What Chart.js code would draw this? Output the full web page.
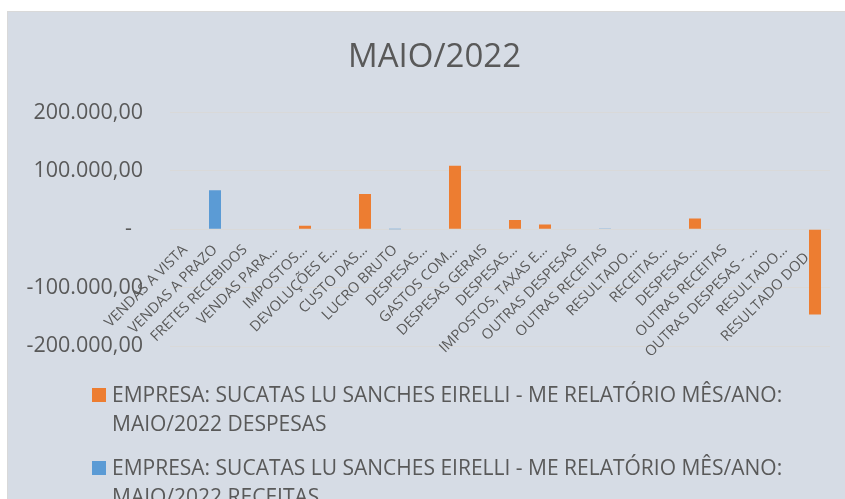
<!DOCTYPE html>
<html><head><meta charset="utf-8">
<script src="https://cdn.jsdelivr.net/npm/chart.js@4"></script>
<style>
html,body{margin:0;padding:0;background:#fff;width:845px;height:499px;overflow:hidden;font-family:'Open Sans',sans-serif;position:relative;}
#panel{position:absolute;left:7px;top:11px;width:838px;height:488px;background:#D6DCE5;border-left:1px solid #d9d9d9;border-top:1px solid #d9d9d9;box-sizing:border-box;}
#wrap{position:absolute;left:0;top:0;width:869px;height:386px;}
#legend{position:absolute;left:92px;top:380px;color:#595959;font-family:'Open Sans';font-size:21px;line-height:29px;}
.item{display:flex;align-items:flex-start;margin-bottom:15px;}
.box{width:14px;height:14px;margin-top:8px;margin-right:6px;flex:none;}
.txt{width:700px;}
</style></head>
<body>
<div id="panel"></div>
<div id="wrap"><canvas id="c"></canvas></div>
<div id="legend"></div>
<script>
const TITLE = 'MAIO/2022';
const categories = ['VENDAS A VISTA','VENDAS A PRAZO','FRETES RECEBIDOS','VENDAS PARA…','IMPOSTOS…','DEVOLUÇÕES E…','CUSTO DAS…','LUCRO BRUTO','DESPESAS…','GASTOS COM…','DESPESAS GERAIS','DESPESAS…','IMPOSTOS, TAXAS E…','OUTRAS DESPESAS','OUTRAS RECEITAS','RESULTADO…','RECEITAS…','DESPESAS…','OUTRAS RECEITAS','OUTRAS DESPESAS - …','RESULTADO…','RESULTADO DOD…'];
const seriesNames = ['EMPRESA: SUCATAS LU SANCHES EIRELLI - ME RELATÓRIO MÊS/ANO: MAIO/2022 DESPESAS','EMPRESA: SUCATAS LU SANCHES EIRELLI - ME RELATÓRIO MÊS/ANO: MAIO/2022 RECEITAS'];
const despesas = [0,0,0,0,6000,0,60700,0,0,109000,0,15900,8300,0,0,0,0,18600,0,0,0,-146000];
const receitas = [0,67000,0,0,0,0,0,150,0,0,0,0,0,0,600,0,0,0,0,0,0,0];
const yTicks = [-200000,-100000,0,100000,200000];

function fmt(v){
  if (v === 0) return '-  ';
  const neg = v < 0; let s = Math.abs(Math.round(v)).toString();
  s = s.replace(/\B(?=(\d{3})+(?!\d))/g, '.');
  return (neg ? '-' : '') + s + ',00';
}
const TXT = '#595959';
Chart.defaults.font.family = "'Open Sans'";
const chart = new Chart(document.getElementById('c'), {
  type: 'bar',
  data: {
    labels: categories,
    datasets: [
      {label: seriesNames[0], data: despesas, backgroundColor: '#ED7D31', grouped: false},
      {label: seriesNames[1], data: receitas, backgroundColor: '#5B9BD5', grouped: false}
    ]
  },
  options: {
    responsive: true, maintainAspectRatio: false, animation: false,
    barPercentage: 0.4, categoryPercentage: 1.0,
    layout: {padding: {left: 0, right: 0, top: 0, bottom: 28}},
    plugins: {
      legend: {display: false}, tooltip: {enabled: false},
      title: {display: true, text: TITLE, color: TXT, font: {size: 33, weight: 'normal'}, padding: {top: 38, bottom: 35}}
    },
    scales: {
      x: {position: {y: 0}, z: 1, grid: {display: false}, border: {display: false},
          ticks: {color: TXT, font: {size: 14.5}, maxRotation: 45, minRotation: 45, autoSkip: false, padding: 4}},
      y: {min: yTicks[0], max: yTicks[yTicks.length-1], afterBuildTicks: s => { s.ticks = yTicks.map(v => ({value: v})); },
          ticks: {color: TXT, font: {size: 21.5}, padding: 27, callback: fmt},
          grid: {color: '#d9d9d9', drawTicks: false, lineWidth: 1}, border: {display: false},
          afterFit: s => { s.width = 170; }},
      y2: {position: 'right', min: yTicks[0], max: yTicks[yTicks.length-1],
          ticks: {display: false}, grid: {display: false}, border: {display: false},
          afterFit: s => { s.width = 39; }}
    }
  }
});
const lg = document.getElementById('legend');
chart.data.datasets.forEach(ds => {
  const it = document.createElement('div'); it.className = 'item';
  const b = document.createElement('span'); b.className = 'box'; b.style.background = ds.backgroundColor;
  const t = document.createElement('span'); t.className = 'txt'; t.textContent = ds.label;
  it.appendChild(b); it.appendChild(t); lg.appendChild(it);
});
</script>
</body></html>
